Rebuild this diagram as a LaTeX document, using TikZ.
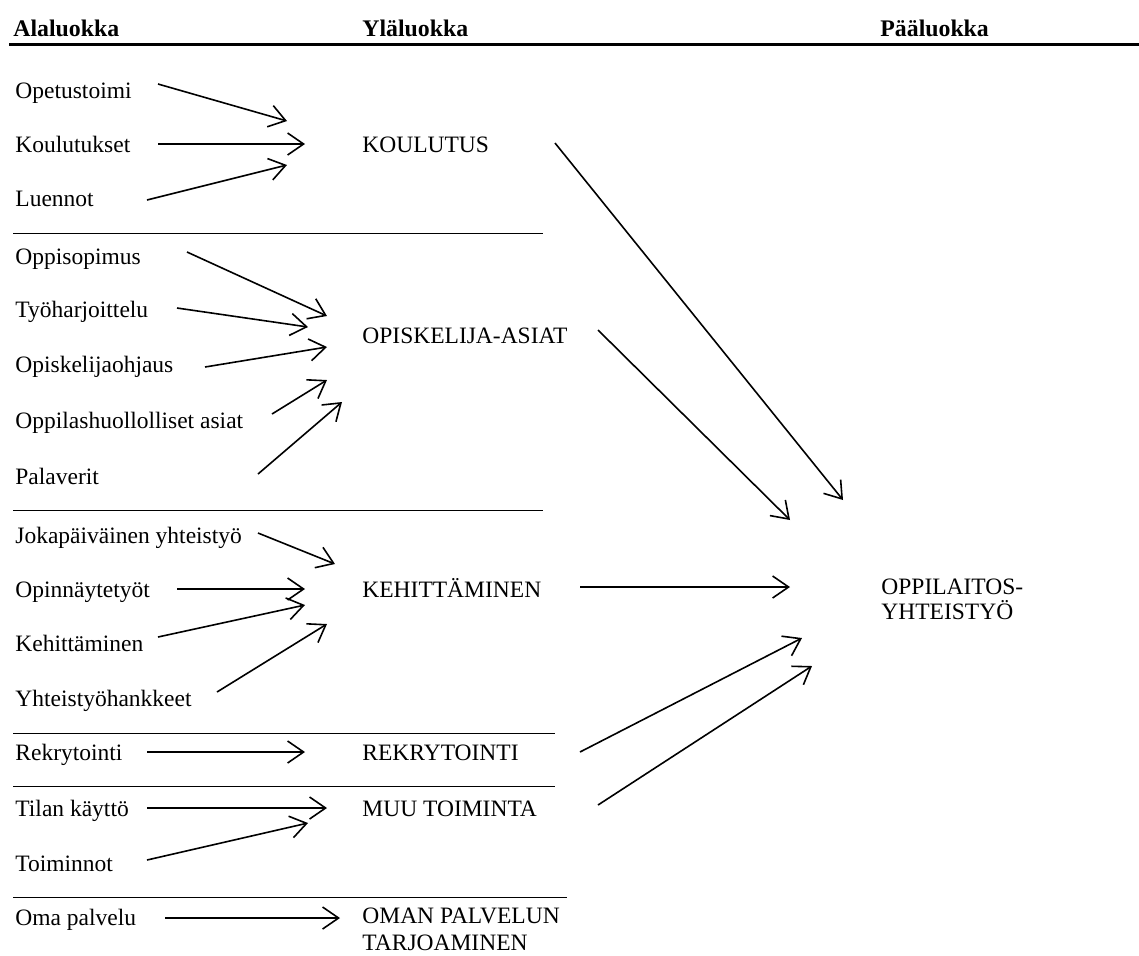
\documentclass[tikz,border=0pt]{standalone}
\usepackage{fontspec}
\setmainfont{Liberation Serif}
\usetikzlibrary{arrows.meta}
\begin{document}
\begin{tikzpicture}[x=0.5pt,y=-0.5pt,
  font=\fontsize{11.75}{12.5}\selectfont,
  lbl/.style={anchor=base west, inner sep=0pt},
  mlbl/.style={anchor=north west, inner sep=0pt, align=left},
  hdr/.style={anchor=base west, inner sep=0pt, font=\fontsize{11.9}{12.5}\selectfont\bfseries},
  arr/.style={-{Straight Barb[length=8pt,width=11pt,line width=0.8pt]}, line width=0.8pt},
  sepline/.style={line width=0.5pt},
  thick rule/.style={line width=1.8pt}]
\useasboundingbox (0,0) rectangle (1139,955);
% header
\node[hdr] (hA) at (13,36) {Alaluokka};
\node[hdr] (hY) at (362,36) {Yläluokka};
\node[hdr] (hP) at (880,36) {Pääluokka};
\coordinate (r1) at (9,44.5);
\coordinate (r2) at (1139,44.5);
\draw[thick rule] (r1) -- (r2);
% left column
\node[lbl] (l1) at (15,98) {Opetustoimi};
\node[lbl] (l2) at (15,152) {Koulutukset};
\node[lbl] (l3) at (15,206) {Luennot};
\node[lbl] (l4) at (15,264) {Oppisopimus};
\node[lbl] (l5) at (15,317) {Työharjoittelu};
\node[lbl] (l6) at (15,372) {Opiskelijaohjaus};
\node[lbl] (l7) at (15,428) {Oppilashuollolliset asiat};
\node[lbl] (l8) at (15,484) {Palaverit};
\node[lbl] (l9) at (15,543) {Jokapäiväinen yhteistyö};
\node[lbl] (l10) at (15,597) {Opinnäytetyöt};
\node[lbl] (l11) at (15,651) {Kehittäminen};
\node[lbl] (l12) at (15,706) {Yhteistyöhankkeet};
\node[lbl] (l13) at (15,760) {Rekrytointi};
\node[lbl] (l14) at (15,816) {Tilan käyttö};
\node[lbl] (l15) at (15,871) {Toiminnot};
\node[lbl] (l16) at (15,925) {Oma palvelu};
% middle column
\node[lbl] (m1) at (362,152) {KOULUTUS};
\node[lbl] (m2) at (362,343) {OPISKELIJA-ASIAT};
\node[lbl] (m3) at (362,597) {KEHITTÄMINEN};
\node[lbl] (m4) at (362,760) {REKRYTOINTI};
\node[lbl] (m5) at (362,816) {MUU TOIMINTA};
\node[mlbl, font=\fontsize{11.75}{13.5}\selectfont] (m6) at (362,908) {OMAN PALVELUN\\TARJOAMINEN};
% main class
\node[mlbl, font=\fontsize{11.75}{12.5}\selectfont] (p1) at (881,579) {OPPILAITOS-\\YHTEISTYÖ};
% separators
\foreach \n/\y/\xe in {s1/233/543, s2/510/543, s3/733/555, s4/786/555, s5/897/567}{
  \coordinate (\n a) at (13,\y);
  \coordinate (\n b) at (\xe,\y);
  \draw[sepline] (\n a) -- (\n b);
}
% arrows left -> middle
\foreach \i/\xa/\ya/\xb/\yb in {
  1/158/84/287/121, 2/158/144/305/144, 3/147/200/287/165,
  4/187/252/327/316, 5/177/308/308/327, 6/205/367/327/347,
  7/272/414/327/380, 8/258/474/342/402,
  9/258/533/335/564, 10/177/589/305/589, 11/158/637/305/605,
  12/217/692/327/624, 13/147/752/305/752,
  14/147/808/327/808, 15/147/860/308/823, 16/165/918/340/918}{
  \coordinate (a\i s) at (\xa,\ya);
  \coordinate (a\i e) at (\xb,\yb);
  \draw[arr] (a\i s) -- (a\i e);
}
% arrows middle -> main
\foreach \i/\xa/\ya/\xb/\yb in {
  1/555/143/843/500, 2/598/330/790/520, 3/580/587/790/587,
  4/580/752/802/638, 5/598/805/812/666}{
  \coordinate (b\i s) at (\xa,\ya);
  \coordinate (b\i e) at (\xb,\yb);
  \draw[arr] (b\i s) -- (b\i e);
}
\end{tikzpicture}
\end{document}
